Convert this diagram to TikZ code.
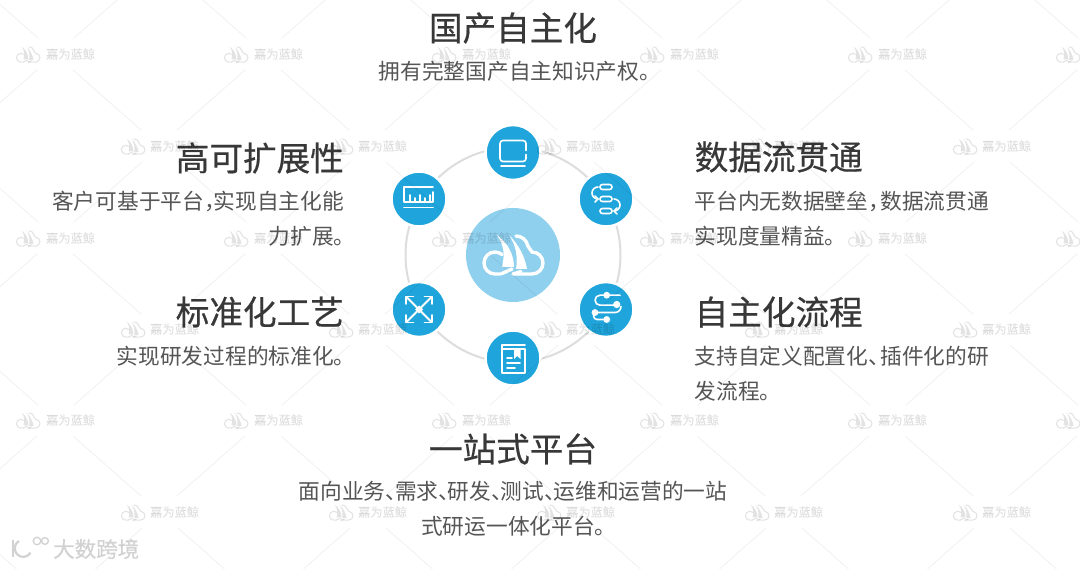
\documentclass[tikz,border=0pt]{standalone}
\usepackage{fontspec}
\setmainfont{Noto Sans CJK SC}
\newfontfamily\ttlfont[FakeBold=0.5]{Noto Sans CJK SC}
\newfontfamily\wmfont[FakeBold=0.8]{Noto Sans CJK SC}
\definecolor{iconblue}{HTML}{1FA5DB}
\definecolor{hubblue}{HTML}{8FD0EE}
\definecolor{ringgray}{HTML}{DDDDDD}
\definecolor{titlecol}{HTML}{383838}
\definecolor{bodycol}{HTML}{555555}
\definecolor{brandgray}{HTML}{D2D2D2}
\tikzset{
 ttl/.style={font=\ttlfont\fontsize{33.6}{36}\selectfont,text=titlecol,inner sep=0pt},
 bodyl/.style={font=\fontsize{21.7}{34.7}\selectfont,text=bodycol,inner sep=0pt},
 badge/.style={circle,fill=iconblue,draw=white,line width=2.5pt,minimum size=55pt,inner sep=0pt},
 ico/.style={draw=white,line width=1.6pt,line cap=round,line join=round},
 wmt/.style={font=\wmfont\fontsize{12.2}{12.2}\selectfont,text=black,text opacity=0.09,inner sep=0pt},
}
\newcommand{\jh}{\makebox[10pt][l]{。}}
\newcommand{\dun}[1][9.5pt]{\makebox[#1][l]{、}}
\newcommand{\dou}[1][9.5pt]{\makebox[#1][l]{，}}
% cloud-and-sails mark: #1 colour, #2 stroke width; drawn in hub-sized coordinates
\newcommand{\cloudmark}[2]{%
 \draw[#1,line width=#2,line cap=round] (-12,19) -- (-18,19) arc (90:310:11);
 \draw[#1,line width=#2,line cap=round] (3,-19) arc (-90:-10:12) -- (19,-3) arc (-90:90:11) -- (0,19);
 \fill[#1] (-16,-20) .. controls (-5,-12) and (1,0) .. (1,12) -- (-11,12) .. controls (-8,0) and (-9,-10) .. (-16,-20) -- cycle;
 \fill[#1] (-4,-20) .. controls (6,-10) and (12,2) .. (14,14) -- (3,14) .. controls (5,2) and (3,-10) .. (-4,-20) -- cycle;
 \draw[#1,line width=#2,line cap=round] (-11,18.5) -- (-1,14);
 \draw[#1,line width=#2,line cap=round] (0,19) -- (8,16.5);
}
\newcommand{\wlogo}[2]{%
 \begin{scope}[shift={(#1-27,#2+0.5)},scale=0.4,opacity=0.11]
 \cloudmark{black}{1.1pt}
 \end{scope}
}
\newcommand{\wlines}[2]{%
 \draw[black,opacity=0.06,line width=.8pt] (#1+18,#2+16) -- (#1+86,#2+76);
 \draw[black,opacity=0.06,line width=.8pt] (#1-18,#2+16) -- (#1-86,#2+76);
}
\begin{document}
\begin{tikzpicture}[x=1pt,y=-1pt]
\useasboundingbox (0,0) rectangle (1080,569);
\fill[white] (0,0) rectangle (1080,569);
% ring and hub
\node[circle,draw=ringgray,line width=2pt,minimum size=215pt,inner sep=0pt] (ring) at (513,255) {};
\node[circle,fill=hubblue,minimum size=94pt,inner sep=0pt] (hub) at (513,255) {};
\node[badge] (b1) at (513,152.5) {};
\node[badge] (b2) at (606,199) {};
\node[badge] (b3) at (606,309.5) {};
\node[badge] (b4) at (513,358) {};
\node[badge] (b5) at (419,309.5) {};
\node[badge] (b6) at (419,199) {};
% hub mark
\begin{scope}[shift={(513,255)}]
 \cloudmark{white}{3.4pt}
\end{scope}
% icon: monitor
\begin{scope}[shift={(513,152.5)}]
 \draw[ico,rounded corners=3pt] (13,-2) -- (13,-12) -- (-13,-12) -- (-13,9) -- (13,9) -- (13,2);
 \draw[ico] (-12,13.5) -- (12,13.5);
\end{scope}
% icon: flow
\begin{scope}[shift={(606,199)}]
 \draw[ico,rounded corners=2.4pt] (-6,-14.5) rectangle (6,-9.5);
 \draw[ico,rounded corners=2.4pt] (-6,-2.5) rectangle (6,2.5);
 \draw[ico,rounded corners=2.4pt] (-6,9.5) rectangle (6,14.5);
 \draw[ico] (-8,-12) arc (-90:-270:6);
 \draw[ico] (-11,-3) -- (-8,0) -- (-11,3);
 \draw[ico] (8,0) arc (-90:90:6);
 \draw[ico] (11,9) -- (8,12) -- (11,15);
\end{scope}
% icon: path
\begin{scope}[shift={(606,309.5)}]
 \draw[ico] (14,-14.3) -- (-6,-14.3) arc (-90:-270:5) -- (10.7,-4.3);
 \draw[ico] (15,-3) arc (0:90:6) -- (-9,3) arc (-90:-270:3.5) -- (0.7,10);
 \fill[white] (0.7,-14.3) circle (3.4) (10.7,-5) circle (3.6) (-11,3) circle (3.4) (0.7,10) circle (3.4);
\end{scope}
% icon: document
\begin{scope}[shift={(513,358)}]
 \draw[ico] (-11,-13) -- (12,-13);
 \draw[ico] (-11,-13) -- (-11,15) -- (12,15) -- (12,-9) -- (-11,-9);
 \fill[white] (1,-9) -- (7.5,-9) -- (7.5,1) -- (4.2,-2) -- (1,1) -- cycle;
 \draw[ico] (-6,0) -- (-1,0) (-6,5) -- (7,5) (-6,10) -- (2,10);
\end{scope}
% icon: expand
\begin{scope}[shift={(419,309.5)}]
 \draw[ico,line width=2pt] (-12,-12) -- (12,12) (-12,12) -- (12,-12);
 \fill[white] (-4,0) -- (0,-4) -- (4,0) -- (0,4) -- cycle;
 \draw[ico] (-13,-5.5) -- (-13,-13) -- (-5.5,-13);
 \draw[ico] (13,-5.5) -- (13,-13) -- (5.5,-13);
 \draw[ico] (-13,5.5) -- (-13,13) -- (-5.5,13);
 \draw[ico] (13,5.5) -- (13,13) -- (5.5,13);
\end{scope}
% icon: ruler
\begin{scope}[shift={(419,199)}]
 \draw[ico] (14,-12) -- (-15,-12) -- (-15,3) -- (14,3) -- (14,-7);
 \draw[ico] (-15,8.7) -- (14,8.7);
 \draw[ico] (-9,3) -- (-9,-4) (-4,3) -- (-4,-1) (1,3) -- (1,-4) (6,3) -- (6,-1) (11,3) -- (11,-4);
\end{scope}
% texts
\node[ttl,anchor=center] (t1) at (513,28) {国产自主化};
\node[bodyl,anchor=center] (d1) at (514,71) {拥有完整国产自主知识产权\jh};
\node[ttl,anchor=east] (t6) at (344,158) {高可扩展性};
\node[bodyl,anchor=north east,align=right] (d6) at (344,191) {客户可基于平台\dou 实现自主化能\\力扩展\jh};
\node[ttl,anchor=east] (t5) at (344,312) {标准化工艺};
\node[bodyl,anchor=east] (d5) at (344,356) {实现研发过程的标准化\jh};
\node[ttl,anchor=west] (t2) at (694.5,157) {数据流贯通};
\node[bodyl,anchor=north west,align=left] (d2) at (694.5,191) {平台内无数据壁垒\dou[12pt]数据流贯通\\实现度量精益\jh};
\node[ttl,anchor=west] (t3) at (694.5,312) {自主化流程};
\node[bodyl,anchor=north west,align=left] (d3) at (694.5,346) {支持自定义配置化\dun[12pt]插件化的研\\发流程\jh};
\node[ttl,anchor=center] (t4) at (513,449) {一站式平台};
\node[bodyl,anchor=north,align=center] (d4) at (513,481) {面向业务\dun 需求\dun 研发\dun 测试\dun 运维和运营的一站\\式研运一体化平台\jh};
% bottom-left brand
\draw[brandgray,line width=2.2pt] (13,540) -- (13,557);
\draw[brandgray,line width=2.2pt] (19,541) arc (-120:-330:8.5);
\draw[brandgray,line width=1.3pt] (37,541) circle (3.8) (45,541) circle (3.4);
\node[font=\ttlfont\fontsize{21.5}{22}\selectfont,text=brandgray,anchor=west,inner sep=0pt] (brand) at (53,549) {大数跨境};
% watermark layer on top of everything, as in the reference
\begin{scope}
 \clip (0,0) rectangle (1080,569);
 \foreach \x in {-153,55,263,471,679,887,1095}{\wlines{\x}{54}\wlines{\x}{238}\wlines{\x}{420}}
 \foreach \x in {-48,160,368,576,784,992,1200}{\wlines{\x}{-38}\wlines{\x}{146}\wlines{\x}{329}\wlines{\x}{512}}
\end{scope}
\foreach \x in {55,263,471,679,887,1095}{\wlogo{\x}{54}\wlogo{\x}{238}\wlogo{\x}{420}}
\foreach \x in {160,368,576,784,992}{\wlogo{\x}{146}\wlogo{\x}{329}\wlogo{\x}{512}}
\foreach \x [count=\i] in {55,263,471,679,887}{
 \node[wmt,anchor=west] (wa\i) at (\x-9,54) {嘉为蓝鲸};
 \node[wmt,anchor=west] (wb\i) at (\x-9,238) {嘉为蓝鲸};
 \node[wmt,anchor=west] (wc\i) at (\x-9,420) {嘉为蓝鲸};
}
\foreach \x [count=\i] in {160,368,576,784,992}{
 \node[wmt,anchor=west] (wd\i) at (\x-10,146) {嘉为蓝鲸};
 \node[wmt,anchor=west] (we\i) at (\x-10,329) {嘉为蓝鲸};
 \node[wmt,anchor=west] (wf\i) at (\x-10,512) {嘉为蓝鲸};
}
\end{tikzpicture}
\end{document}
